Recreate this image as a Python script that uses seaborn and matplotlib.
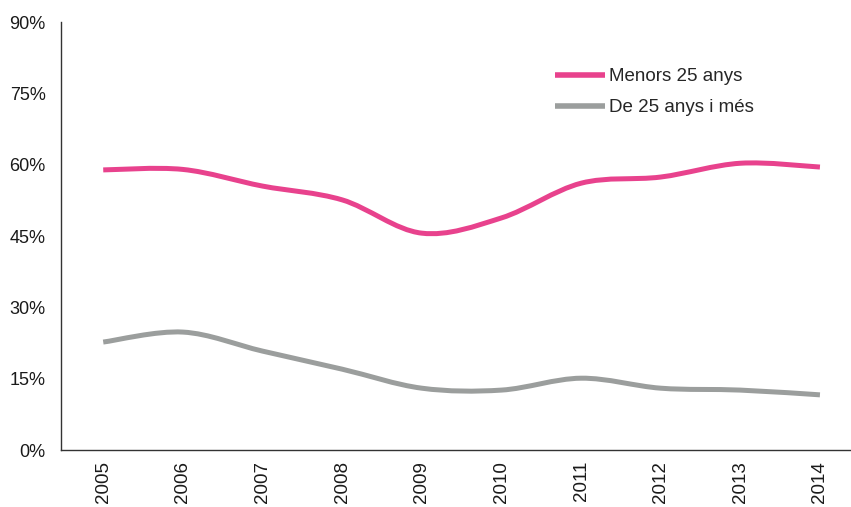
import numpy as np
import pandas as pd
import matplotlib
matplotlib.use("Agg")
import matplotlib.pyplot as plt
from matplotlib.path import Path
from matplotlib.patches import PathPatch
from matplotlib.lines import Line2D
import seaborn as sns

years = ["2005", "2006", "2007", "2008", "2009", "2010", "2011", "2012", "2013", "2014"]
menors_25 = [58.9, 59.0, 55.5, 52.6, 45.6, 48.8, 56.1, 57.4, 60.3, 59.5]
de_25_mes = [22.7, 24.8, 20.8, 17.0, 13.0, 12.6, 15.1, 13.0, 12.6, 11.6]
series_names = ["Menors 25 anys", "De 25 anys i més"]
colors = ["#E8428D", "#9B9E9D"]
y_ticks = [0, 15, 30, 45, 60, 75, 90]


def smooth_path(xs, ys):
    # Catmull-Rom style bezier through the points (like Excel's smoothed line)
    pts = np.column_stack([xs, ys]).astype(float)
    ext = np.vstack([pts[0], pts, pts[-1]])
    verts = [tuple(pts[0])]
    codes = [Path.MOVETO]
    for i in range(1, len(ext) - 2):
        p0, p1, p2, p3 = ext[i - 1], ext[i], ext[i + 1], ext[i + 2]
        c1 = p1 + (p2 - p0) / 6.0
        c2 = p2 - (p3 - p1) / 6.0
        verts += [tuple(c1), tuple(c2), tuple(p2)]
        codes += [Path.CURVE4] * 3
    return Path(verts, codes)


df = pd.DataFrame({
    "year": years * 2,
    "value": menors_25 + de_25_mes,
    "serie": [series_names[0]] * len(years) + [series_names[1]] * len(years),
})

sns.set_theme(style="white")
plt.rcParams["font.family"] = ["Liberation Sans", "DejaVu Sans"]

fig = plt.figure(figsize=(8.51, 5.07), dpi=100)
ax = fig.add_axes([0.0717, 0.1124, 0.9283, 0.8442])

sns.lineplot(data=df, x="year", y="value", hue="serie", palette=colors,
             linewidth=3.6, ax=ax, sort=False, legend=False)

# replace straight segments with smoothed curves
for line in ax.get_lines():
    line.set_visible(False)
x_pos = np.arange(len(years))
for vals, col in zip([menors_25, de_25_mes], colors):
    ax.add_patch(PathPatch(smooth_path(x_pos, vals), facecolor="none",
                           edgecolor=col, linewidth=3.6, capstyle="butt"))

ax.set_xlim(-0.53, 9.39)
ax.set_ylim(0, 90)
ax.set_yticks(y_ticks)
ax.set_yticklabels([f"{t}%" for t in y_ticks], fontsize=13, color="#1a1a1a")
ax.set_xticks(x_pos)
ax.set_xticklabels(years, rotation=90, fontsize=13.5, color="#1a1a1a")
ax.tick_params(axis="y", length=0, pad=11)
ax.tick_params(axis="x", length=0, pad=8)
ax.set_xlabel("")
ax.set_ylabel("")

sns.despine(ax=ax, top=True, right=True)
ax.spines["left"].set_color("#333333")
ax.spines["bottom"].set_color("#333333")
ax.spines["left"].set_linewidth(1.0)
ax.spines["bottom"].set_linewidth(1.0)

handles = [Line2D([], [], color=c, linewidth=4, solid_capstyle="butt") for c in colors]
ax.legend(handles, series_names, loc="upper left", bbox_to_anchor=(0.652, 0.866),
          bbox_transform=fig.transFigure, frameon=False, fontsize=13.5,
          handlelength=2.67, handletextpad=0.2, labelspacing=0.76,
          borderaxespad=0, borderpad=0)

fig.savefig("out.png", dpi=100)
